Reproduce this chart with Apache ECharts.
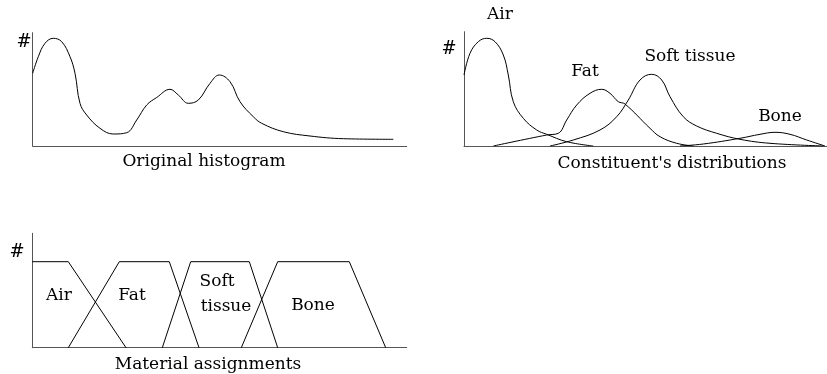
<!DOCTYPE html>
<html>
<head>
<meta charset="utf-8">
<script src="https://cdn.jsdelivr.net/npm/echarts@6/dist/echarts.min.js"></script>
<style>
html, body { margin: 0; padding: 0; background: #fff; }
#main { width: 827px; height: 374px; }
</style>
</head>
<body>
<div id="main"></div>
<script>
// original histogram (x, count) in arbitrary units
var histX = [0, 5.6, 12.3, 20.6, 29, 37.3, 42.3, 47.3, 54, 67.3, 80.6, 94, 104, 114, 124, 137.3, 145.6, 155.6, 165.6, 177.3, 186.6, 197.3, 207.3, 220.6, 229, 250.6, 277.3, 310.6, 360.6];
var histY = [72.7, 89.3, 102.7, 107.7, 104.3, 89.3, 72.7, 42.7, 31, 17.7, 12, 13.3, 26, 41, 48.5, 56.7, 51, 42.7, 46, 62.7, 71, 64.3, 44.3, 29.3, 22.7, 14.3, 10, 7.3, 6.7];

// constituent distributions
var airX = [0, 6, 14.3, 22.7, 31, 39.3, 44.3, 49.3, 59.3, 72.7, 82.7, 102.7, 129.3];
var airY = [71, 92.7, 104.3, 107.7, 104.3, 91, 71, 44.3, 27.7, 16, 11.7, 4.3, 0];
var fatX = [29.3, 82.7, 94.3, 102.7, 112.7, 126, 137.7, 146, 154.3, 161, 186, 196, 212.7, 229.3];
var fatY = [0, 11, 12.7, 26, 41, 52.7, 56.7, 52.7, 44.3, 42, 17.7, 9.3, 2.7, 0];
var softX = [86, 109.3, 136, 152.7, 164.3, 176, 187.7, 197.7, 206, 219.3, 232.7, 252.7, 276, 306, 359.3];
var softY = [0, 6, 16, 29.3, 46, 66, 71.7, 66, 49.3, 29.3, 20, 12.7, 6.7, 2.7, 0];
var boneX = [216, 239.3, 276, 296, 311, 326, 342.7, 361];
var boneY = [0, 2, 7.7, 11.7, 13.7, 11.7, 6, 0];

// material assignments (trapezoids)
var airAssignX = [0, 36, 93.7];
var airAssignY = [86, 86, 0];
var fatAssignX = [36, 87, 137, 166.7];
var fatAssignY = [0, 86, 86, 0];
var softAssignX = [130, 158.4, 217, 245.4];
var softAssignY = [0, 86, 86, 0];
var boneAssignX = [209, 245.4, 317, 353.4];
var boneAssignY = [0, 86, 86, 0];

function pairs(xs, ys) {
	var out = [];
	for (var i = 0; i < xs.length; i++) {
		out.push([xs[i], ys[i]]);
	}
	return out;
}

var font = '"DejaVu Serif", "Liberation Serif", serif';
var axisColor = '#555';

function xAx(idx, max) {
	return {
		gridIndex: idx, type: 'value', min: 0, max: max,
		axisLine: { show: true, onZero: false, lineStyle: { color: axisColor, width: 1 } },
		axisTick: { show: false }, axisLabel: { show: false }, splitLine: { show: false }
	};
}
function yAx(idx, max) {
	return {
		gridIndex: idx, type: 'value', min: 0, max: max,
		axisLine: { show: true, lineStyle: { color: axisColor, width: 1 } },
		axisTick: { show: false }, axisLabel: { show: false }, splitLine: { show: false }
	};
}
function curve(idx, xs, ys, smooth) {
	return {
		type: 'line', xAxisIndex: idx, yAxisIndex: idx,
		data: pairs(xs, ys), symbol: 'none', smooth: smooth,
		lineStyle: { color: '#000', width: 1 }, silent: true, animation: false
	};
}
function txt(s, x, y, size) {
	return {
		type: 'text', x: x, y: y,
		style: { text: s, font: (size || 17) + 'px ' + font, fill: '#000', align: 'center', verticalAlign: 'middle' }
	};
}

var myChart = echarts.init(document.getElementById('main'));
var option = {
	animation: false,
	grid: [
		{ left: 32.7, top: 32.7, width: 374, height: 113.3 },
		{ left: 464, top: 31.7, width: 363, height: 114.3 },
		{ left: 32.3, top: 233.3, width: 374.4, height: 114.4 }
	],
	xAxis: [xAx(0, 374), xAx(1, 363), xAx(2, 374.4)],
	yAxis: [yAx(0, 113.3), yAx(1, 114.3), yAx(2, 114.4)],
	series: [
		curve(0, histX, histY, 0.4),
		curve(1, airX, airY, 0.4),
		curve(1, fatX, fatY, 0.4),
		curve(1, softX, softY, 0.4),
		curve(1, boneX, boneY, 0.4),
		curve(2, airAssignX, airAssignY, false),
		curve(2, fatAssignX, fatAssignY, false),
		curve(2, softAssignX, softAssignY, false),
		curve(2, boneAssignX, boneAssignY, false)
	],
	graphic: [
		txt('#', 24, 42, 18),
		txt('Original histogram', 204, 162),
		txt('#', 449, 49, 18),
		txt('Air', 500, 15),
		txt('Fat', 585, 72),
		txt('Soft tissue', 690, 57),
		txt('Bone', 780, 117),
		txt("Constituent's distributions", 672, 164),
		txt('#', 17, 252, 18),
		txt('Air', 59, 296),
		txt('Fat', 132, 296),
		txt('Soft', 217, 282),
		txt('tissue', 226, 307),
		txt('Bone', 313, 306),
		txt('Material assignments', 208, 365)
	]
};
myChart.setOption(option);
</script>
</body>
</html>
